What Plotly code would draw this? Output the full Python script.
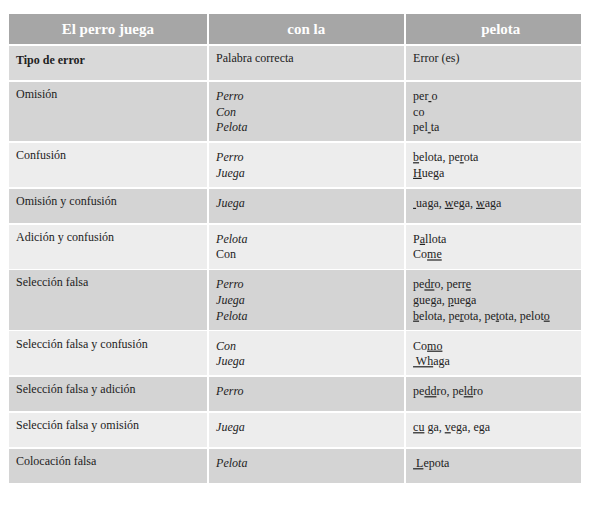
import plotly.graph_objects as go

header = ["El perro juega", "con la", "pelota"]

tipos = ["<b>Tipo de error</b>", "Omisión", "Confusión", "Omisión y confusión",
         "Adición y confusión", "Selección falsa", "Selección falsa y confusión",
         "Selección falsa y adición", "Selección falsa y omisión", "Colocación falsa"]

correctas = ["Palabra correcta",
             "<i>Perro</i><br><i>Con</i><br><i>Pelota</i>",
             "<i>Perro</i><br><i>Juega</i>",
             "<i>Juega</i>",
             "<i>Pelota</i><br>Con",
             "<i>Perro</i><br><i>Juega</i><br><i>Pelota</i>",
             "<i>Con</i><br><i>Juega</i>",
             "<i>Perro</i>",
             "<i>Juega</i>",
             "<i>Pelota</i>"]

errores = ["Error (es)",
           "per<u> </u>o<br>co<br>pel<u> </u>ta",
           "<u>b</u>elota, pe<u>r</u>ota<br><u>H</u>uega",
           "<u> </u>uaga, <u>w</u>ega, <u>w</u>aga",
           "P<u>a</u>llota<br>Co<u>me</u>",
           "pe<u>dr</u>o, perr<u>e</u><br><u>g</u>uega, <u>p</u>uega<br><u>b</u>elota, pe<u>r</u>ota, pe<u>t</u>ota, pelot<u>o</u>",
           "Co<u>mo</u><br><u> Wh</u>aga",
           "pe<u>dd</u>ro, pe<u>ld</u>ro",
           "<u>cu</u> ga, <u>v</u>ega, ega",
           "<u> L</u>epota"]

row_fill = ["#d9d9d9", "#d4d4d4", "#ededed", "#d4d4d4", "#ededed",
            "#d4d4d4", "#ededed", "#d4d4d4", "#ededed", "#d4d4d4"]

fig = go.Figure(go.Table(
    columnwidth=[197, 194, 189],
    header=dict(
        values=["<b>%s</b>" % h for h in header],
        fill_color="#a6a6a6",
        font=dict(family="Liberation Serif", size=15, color="white"),
        align="center",
        line=dict(color="white", width=1.5),
        height=28,
    ),
    cells=dict(
        values=[tipos, correctas, errores],
        fill_color=[row_fill] * 3,
        font=dict(family="Liberation Serif", size=12, color="#222"),
        align="left",
        line=dict(color="white", width=1.5),
        height=36,
    ),
))

fig.update_layout(
    width=589, height=521,
    margin=dict(l=0, r=0, t=5, b=0),
    paper_bgcolor="white",
)

fig.write_html("out.html")
